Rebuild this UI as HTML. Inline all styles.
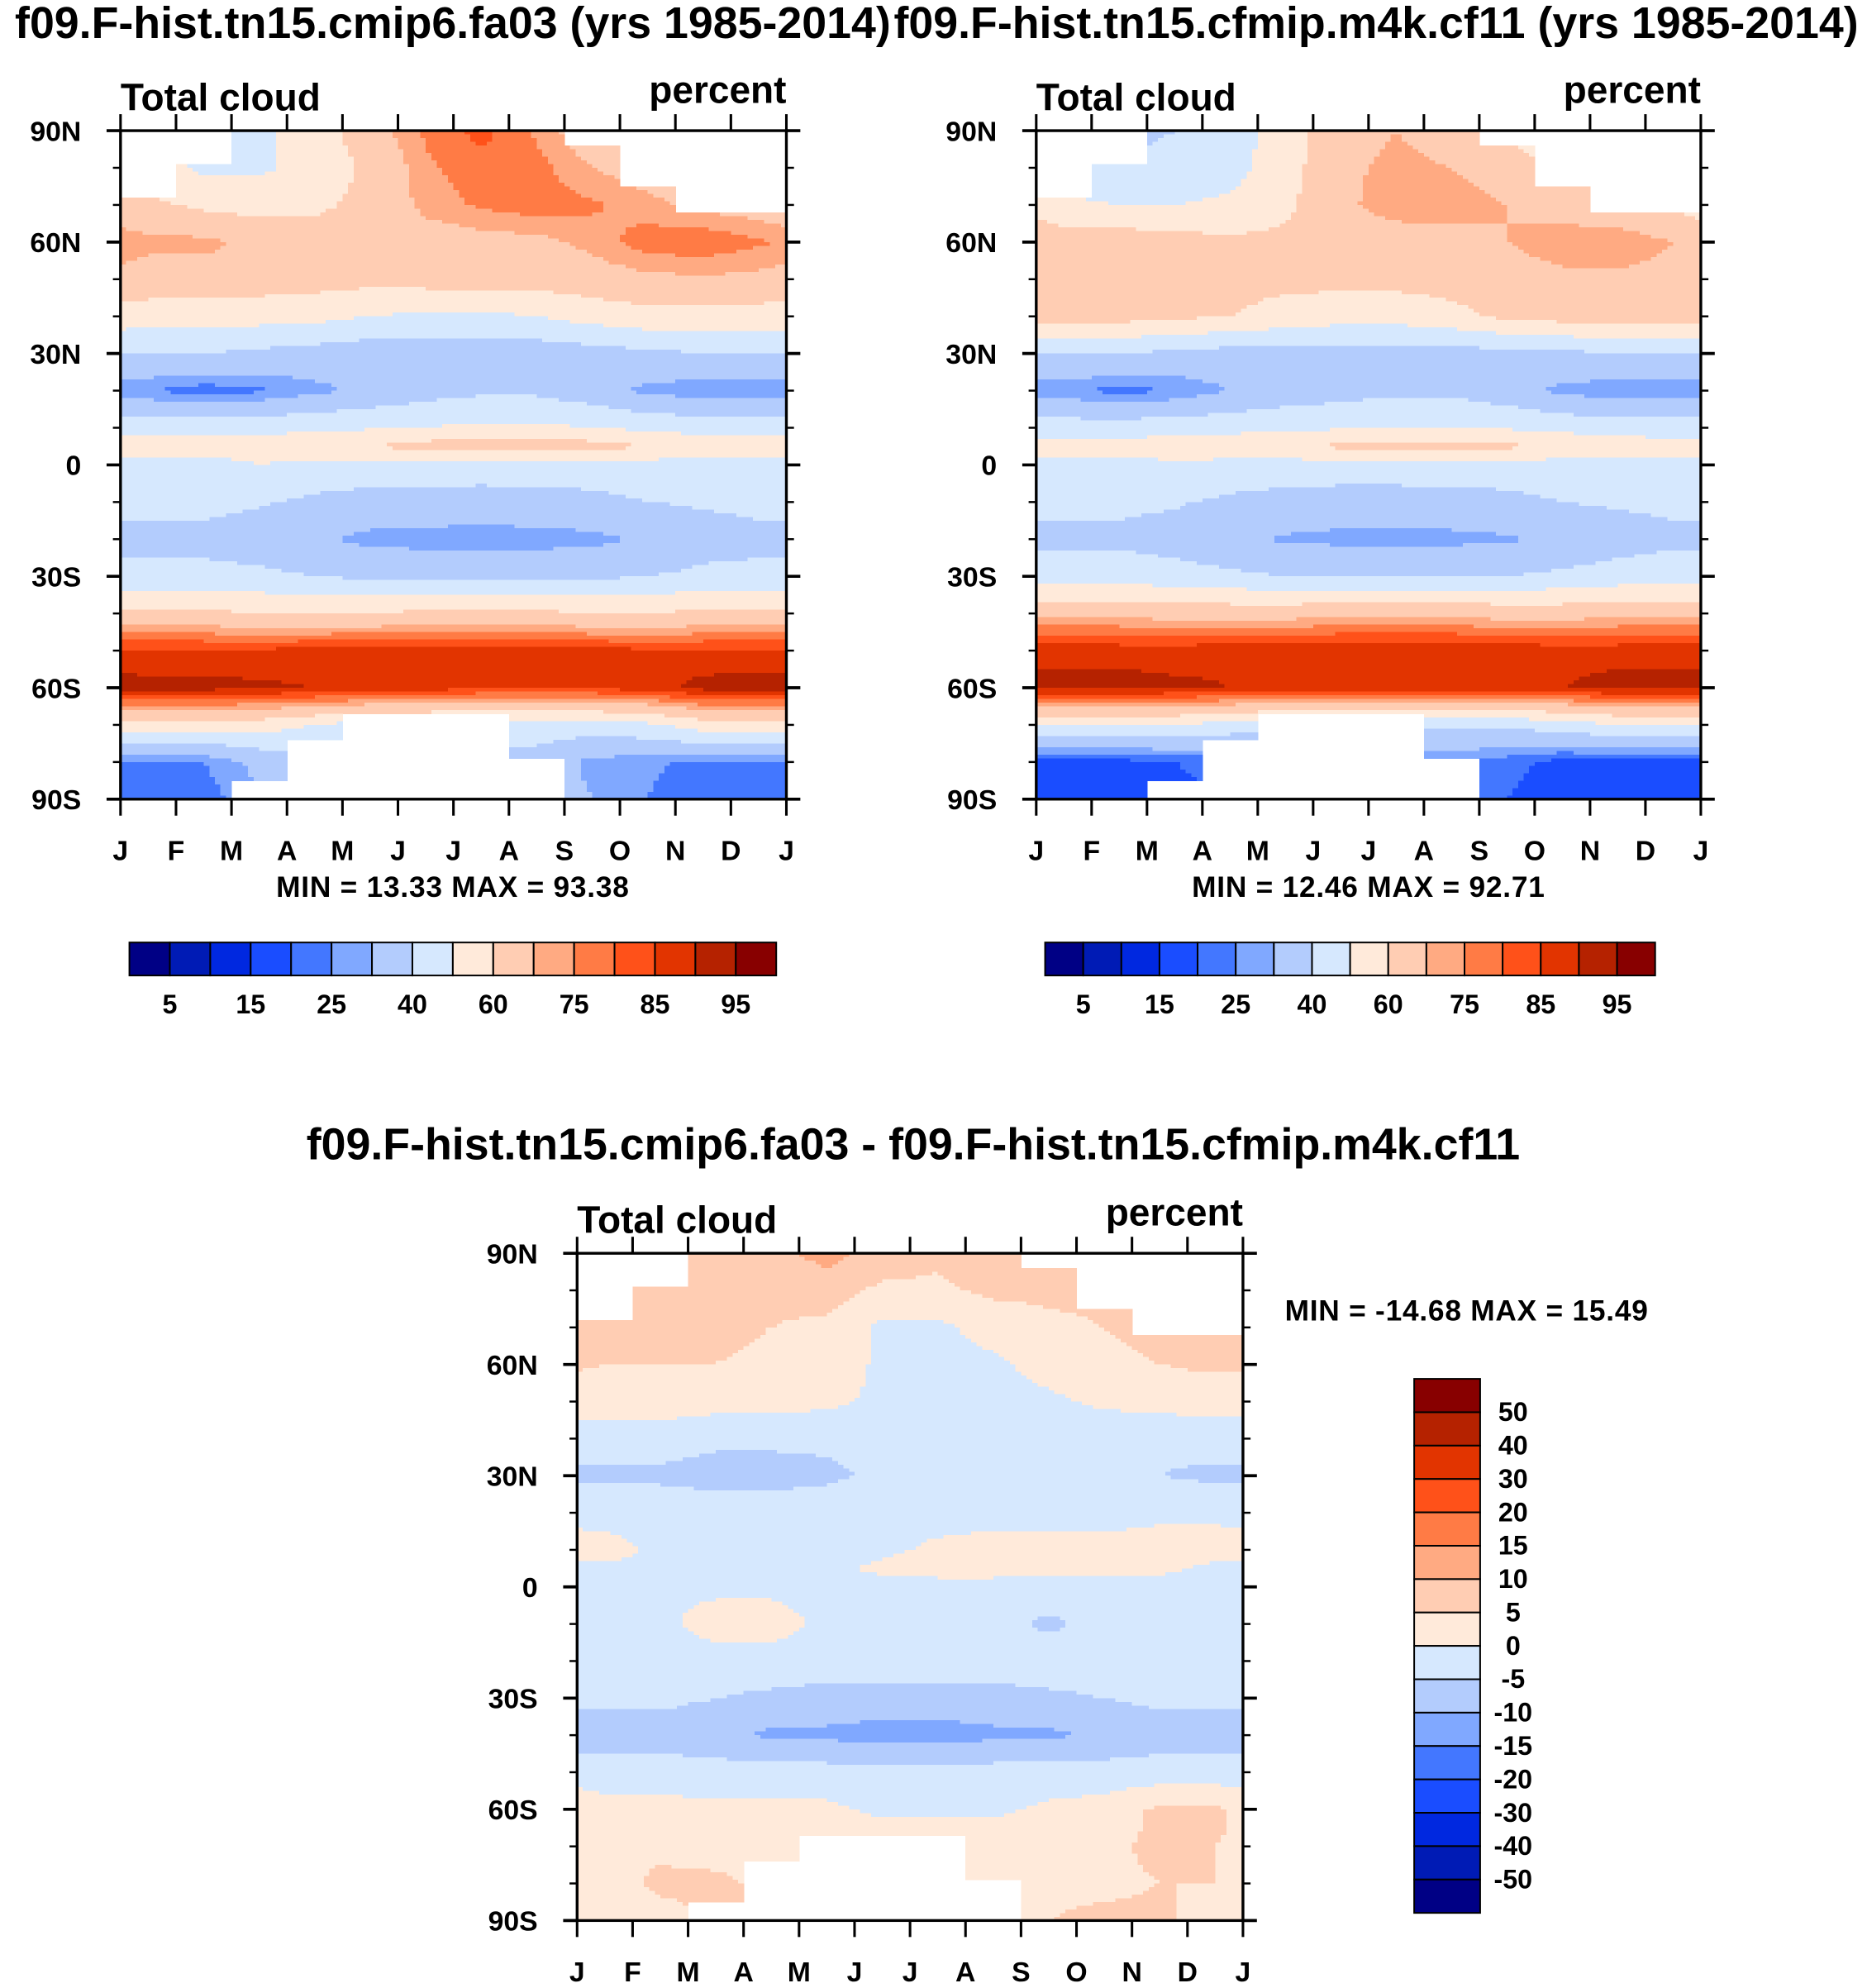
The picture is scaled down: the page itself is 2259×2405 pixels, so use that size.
<!DOCTYPE html>
<html><head><meta charset="utf-8">
<style>
html,body{margin:0;padding:0;background:#fff;}
svg{display:block;}
text{font-family:"Liberation Sans",Arial,sans-serif;font-weight:bold;fill:#000;}
</style></head>
<body>
<svg id="fig" xmlns="http://www.w3.org/2000/svg" width="2259" height="2405" viewBox="0 0 1472 1567.2"></svg>
<script>
// ---------- DATA ----------
const months = ["J","F","M","A","M","J","J","A","S","O","N","D","J"];
const latNodes = [90,80,70,60,50,40,30,20,10,5,0,-10,-20,-30,-40,-50,-60,-70,-80,-90];
const latTickLabels = ["90N","60N","30N","0","30S","60S","90S"];
const latTickValues = [90,60,30,0,-30,-60,-90];
const northMissing = [72,81,90,90,90,90,90,90,86,75,68,68];
const southMissing = [-90,-90,-85,-74,-67,-67,-67,-79,-90,-90,-90,-90];
const fieldLevels = [5,10,15,20,25,30,40,50,60,70,75,80,85,90,95];
const fieldLabels = ["5","15","25","40","60","75","85","95"];
const diffLevels = [-50,-40,-30,-20,-15,-10,-5,0,5,10,15,20,30,40,50];
const diffLabels = ["50","40","30","20","15","10","5","0","-5","-10","-15","-20","-30","-40","-50"];
const palette = ["#000085","#001bb5","#0028e0","#1a4dff","#4377ff","#80a8ff","#b3ccfd","#d6e8fe","#ffeada","#ffcdb3","#ffaa82","#ff7b45","#ff5119","#e23400","#b52200","#880000"];

const cloudA = [
[50,45,48,55,66,76,82,74,64,55,52,52],
[55,48,48,54,62,74,78,77,70,66,62,60],
[62,58,56,58,63,72,76,78,76,72,68,66],
[72,72,68,65,64,66,67,68,72,78,79,76],
[66,66,65,64,63,64,64,64,66,68,69,68],
[55,55,54,53,50,48,48,50,54,57,57,56],
[40,40,38,36,34,34,34,34,36,38,40,40],
[25,22,24,28,32,36,38,38,34,28,26,26],
[46,46,47,48,49,50,52,52,50,48,46,46],
[54,54,55,57,60,64,66,66,64,60,56,54],
[47,46,50,47,46,46,46,46,46,46,46,47],
[42,42,41,38,36,36,35,36,37,40,41,42],
[38,38,35,31,28,27,27,27,28,31,36,38],
[42,42,42,40,38,38,38,38,38,40,42,42],
[62,62,60,60,60,62,62,62,60,60,62,62],
[86,86,86,87,88,88,88,88,87,86,86,86],
[92,92,91,90,90,88,86,86,86,88,92,93],
[55,55,55,50,45,45,45,45,45,48,55,55],
[25,25,32,35,38,38,36,36,28,26,24,24],
[20,22,30,35,38,38,36,36,30,25,20,20]];

const cloudB = [
[45,38,40,45,55,66,70,66,58,50,48,46],
[45,40,42,46,56,68,72,70,65,60,55,50],
[52,50,50,52,58,68,74,74,70,66,62,58],
[66,66,64,62,62,64,65,66,70,74,75,70],
[65,65,64,63,62,63,63,64,66,68,68,67],
[64,64,62,60,57,54,54,57,62,64,65,65],
[40,40,38,36,35,36,36,36,37,38,40,40],
[26,23,25,30,34,36,38,38,34,28,26,26],
[45,45,46,47,48,49,50,50,49,47,45,45],
[54,54,55,56,58,62,64,64,62,58,56,54],
[47,46,49,47,46,46,46,46,46,46,46,47],
[42,42,41,38,36,35,35,36,37,40,41,42],
[38,38,36,32,29,28,28,28,29,32,36,38],
[45,45,44,42,40,40,40,40,40,42,44,45],
[68,68,66,66,66,68,68,68,66,66,68,68],
[88,88,88,89,90,90,90,90,89,88,88,88],
[92,92,91,90,90,89,88,88,88,90,92,92],
[50,50,50,46,42,42,42,42,42,45,50,50],
[18,18,20,22,25,25,25,25,22,18,18,18],
[16,16,18,20,22,22,22,22,20,16,16,16]];

const cloudDiff = [
[6,6,8,8,12,8,6,10,6,4,4,4],
[6,6,7,6,7,4,4,6,6,6,6,6],
[8,7,6,5,4,-1,-1,2,4,5,6,7],
[5,5,5,4,3,-1,-2,-1,2,4,5,6],
[3,3,2,2,1,-1,-2,-2,-1,1,2,2],
[-3,-3,-4,-4,-4,-3,-2,-2,-3,-4,-4,-3],
[-6,-6,-7,-7,-6,-4,-3,-3,-4,-4,-5,-6],
[-2,-2,-2,-2,-2,-2,-2,-2,-2,-2,-1,-1],
[2,-1,-2,-2,-2,-1,1,2,2,2,2,2],
[-1,-1,-1,-1,-1,1,2,2,1,1,1,-1],
[-2,-1,-1,-1,-2,-2,-2,-2,-2,-2,-2,-2],
[-2,-1,2,2,-1,-2,-2,-3,-6,-3,-2,-2],
[-2,-2,-2,-2,-2,-2,-2,-2,-2,-2,-2,-2],
[-4,-4,-5,-6,-7,-7,-7,-7,-6,-5,-4,-4],
[-7,-7,-8,-11,-11,-12,-12,-11,-11,-9,-7,-7],
[-3,-3,-3,-3,-3,-3,-3,-3,-3,-3,-3,-3],
[2,2,1,1,1,-1,-1,-1,1,2,6,6],
[4,4,3,3,3,3,3,3,3,4,6,5],
[3,6,6,4,4,4,4,4,4,4,5,5],
[3,3,6,4,4,4,4,4,5,6,6,3]];

// ---------- DRAWING ----------
const NS = "http://www.w3.org/2000/svg";
const svg = document.getElementById("fig");
function mk(tag, attrs, parent){
  const e = document.createElementNS(NS, tag);
  for (const k in attrs) e.setAttribute(k, attrs[k]);
  (parent||svg).appendChild(e);
  return e;
}
function txt(s, x, y, size, anchor, name, parent, ls){
  const t = mk("text", {x:x, y:y, "font-size":size, "text-anchor":anchor||"start"}, parent);
  if (ls) t.setAttribute("letter-spacing", ls);
  t.textContent = s;
  
  
  return t;
}
function levelIndex(v, levels){
  let i = 0;
  while (i < levels.length && v >= levels[i]) i++;
  return i;
}
function interp(grid, lat, t){
  let u = t - 0.5; if (u < 0) u += 12;
  const m0 = Math.floor(u) % 12, m1 = (m0 + 1) % 12, fx = u - Math.floor(u);
  let j = 0;
  while (j < latNodes.length - 2 && lat < latNodes[j+1]) j++;
  const la = latNodes[j], lb = latNodes[j+1];
  const fy = (la - lat) / (la - lb);
  const a = grid[j][m0]*(1-fx) + grid[j][m1]*fx;
  const b = grid[j+1][m0]*(1-fx) + grid[j+1][m1]*fx;
  return a*(1-fy) + b*fy;
}

function panel(cfg){
  const g = mk("g", {});
  
  
  const x0 = cfg.x, y0 = cfg.y, w = cfg.w, h = cfg.h;
  const xScale = t => x0 + t / 12 * w;
  const yScale = lat => y0 + (90 - lat) / 180 * h;
  const field = mk("g", {"shape-rendering":"crispEdges"}, g);
  
  
  const dLat = 1, dT = 0.1;
  for (let lat = 90; lat > -90; lat -= dLat){
    const lc = lat - dLat/2;
    let runStart = null, runCol = null;
    const nSteps = Math.round(12 / dT);
    for (let k = 0; k <= nSteps; k++){
      let col = null;
      if (k < nSteps){
        const t = (k + 0.5) * dT;
        const m = Math.min(11, Math.floor(t));
        if (!(lc > northMissing[m] || lc < southMissing[m])){
          col = palette[levelIndex(interp(cfg.grid, lc, t), cfg.levels)];
        }
      }
      if (col !== runCol){
        if (runCol !== null){
          const r = mk("rect", {x:xScale(runStart*dT), y:yScale(lat), width:xScale(k*dT)-xScale(runStart*dT)+0.4, height:yScale(lat-dLat)-yScale(lat)+0.4, fill:runCol}, field);
          
          
        }
        runStart = k; runCol = col;
      }
    }
  }
  const fr = mk("rect", {x:x0, y:y0, width:w, height:h, fill:"none", stroke:"#000", "stroke-width":2.2}, g);
  
  
  for (let lat = 90; lat >= -90; lat -= 10){
    const major = lat % 30 === 0;
    const L = major ? 11 : 6;
    const y = yScale(lat);
    const t1 = mk("line", {x1:x0, y1:y, x2:x0-L, y2:y, stroke:"#000", "stroke-width":major?2.4:1.6}, g);
    
    
    const t2 = mk("line", {x1:x0+w, y1:y, x2:x0+w+L, y2:y, stroke:"#000", "stroke-width":major?2.4:1.6}, g);
    
    
  }
  latTickValues.forEach((v, i) => {
    txt(latTickLabels[i], x0 - 31, yScale(v) + 8, 22, "end", "y-tick-label", g);
  });
  months.forEach((m, i) => {
    const x = xScale(i);
    const a = mk("line", {x1:x, y1:y0, x2:x, y2:y0-13, stroke:"#000", "stroke-width":2}, g);
    
    
    const b = mk("line", {x1:x, y1:y0+h, x2:x, y2:y0+h+13, stroke:"#000", "stroke-width":2}, g);
    
    
    txt(m, x, y0 + h + 48, 22, "middle", "x-tick-label", g);
  });
  txt("Total cloud", x0, y0 - 16, 30, "start", "left-subtitle", g);
  txt("percent", x0 + w, y0 - 22, 30, "end", "units-label", g);
  txt(cfg.title, cfg.titleX, cfg.titleY, 35, "middle", "panel-title", g);
  return g;
}

function hColorbar(x, y, w, h, labels, name){
  const g = mk("g", {});
  
  
  const bw = w / palette.length;
  palette.forEach((c, i) => {
    const r = mk("rect", {x:x+i*bw, y:y, width:bw, height:h, fill:c, stroke:"#000", "stroke-width":1.3}, g);
    
    
  });
  labels.forEach((s, i) => {
    txt(s, x + (2*i+1)*bw, y + h + 30, 21, "middle", "colorbar-label", g);
  });
}
function vColorbar(x, y, w, h, labels, name){
  const g = mk("g", {});
  
  
  const bh = h / palette.length;
  for (let i = 0; i < palette.length; i++){
    const r = mk("rect", {x:x, y:y+i*bh, width:w, height:bh, fill:palette[palette.length-1-i], stroke:"#000", "stroke-width":1.3}, g);
    
    
  }
  labels.forEach((s, i) => {
    txt(s, x + w + 26, y + (i+1)*bh + 7, 21, "middle", "colorbar-label", g);
  });
}

panel({name:"panel-cmip6-fa03", grid:cloudA, levels:fieldLevels, x:95, y:103, w:525, h:527,
  title:"f09.F-hist.tn15.cmip6.fa03 (yrs 1985-2014)", titleX:357, titleY:30});
panel({name:"panel-cfmip-m4k", grid:cloudB, levels:fieldLevels, x:817, y:103, w:524, h:527,
  title:"f09.F-hist.tn15.cfmip.m4k.cf11 (yrs 1985-2014)", titleX:1085, titleY:30});
panel({name:"panel-difference", grid:cloudDiff, levels:diffLevels, x:455, y:988, w:525, h:526,
  title:"f09.F-hist.tn15.cmip6.fa03 - f09.F-hist.tn15.cfmip.m4k.cf11", titleX:720, titleY:914});

txt("MIN =  13.33 MAX =  93.38", 357, 707, 23, "middle", "minmax-left", null, "0.5");
txt("MIN =  12.46 MAX =  92.71", 1079, 707, 23, "middle", "minmax-right", null, "0.5");
txt("MIN = -14.68 MAX =  15.49", 1013, 1041, 23, "start", "minmax-diff", null, "0.5");

hColorbar(102, 743, 510, 26, fieldLabels, "colorbar-left");
hColorbar(824, 743, 481, 26, fieldLabels, "colorbar-right");
vColorbar(1115, 1087, 52, 421, diffLabels, "colorbar-diff");
</script>
</body></html>
